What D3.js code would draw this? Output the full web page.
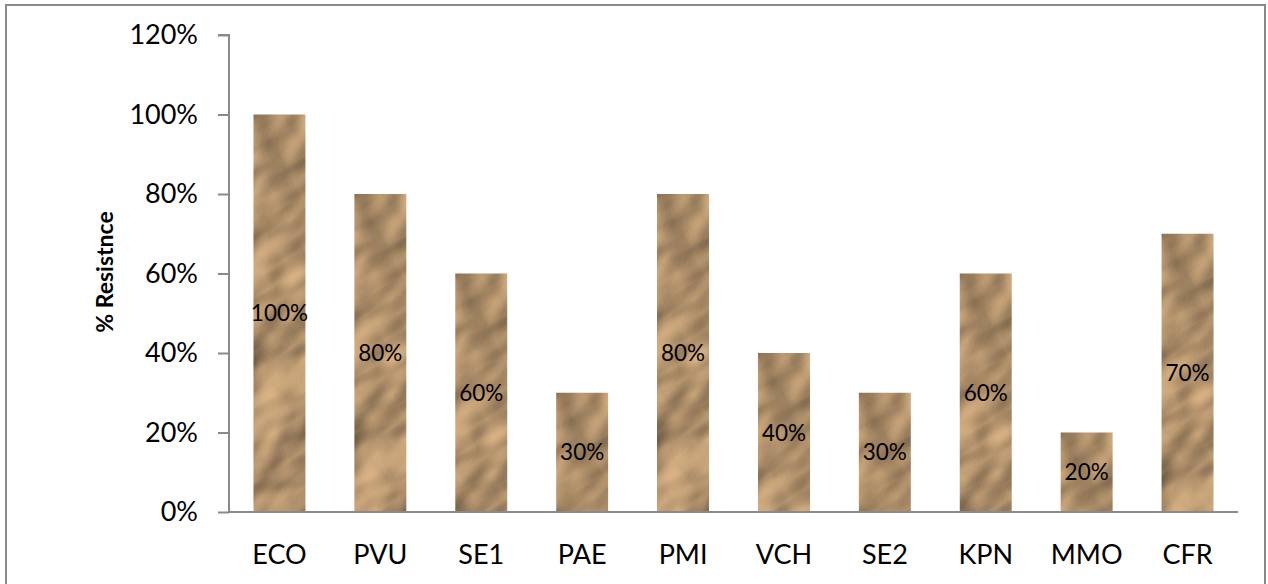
<!DOCTYPE html>
<html>
<head>
<meta charset="utf-8">
<script src="https://cdn.jsdelivr.net/npm/d3@7"></script>
<style>
  html, body { margin: 0; padding: 0; background: #fff; }
  svg { display: block; }
  text { font-family: Lato, "Open Sans", sans-serif; fill: #000; }
</style>
</head>
<body>
<svg id="chart" width="1268" height="584"></svg>
<script>
// Resistance of each isolate
const categories = ["ECO", "PVU", "SE1", "PAE", "PMI", "VCH", "SE2", "KPN", "MMO", "CFR"];
const resistance = [1.00, 0.80, 0.60, 0.30, 0.80, 0.40, 0.30, 0.60, 0.20, 0.70];
const yTicks = [0, 0.2, 0.4, 0.6, 0.8, 1.0, 1.2];
const yTitle = "% Resistnce";

const svg = d3.select("#chart");
const plot = { left: 229, right: 1238, top: 35, bottom: 512 };

// chart frame
svg.append("rect")
  .attr("x", 6).attr("y", 5)
  .attr("width", 1259).attr("height", 600)
  .attr("fill", "none").attr("stroke", "#8a8a8a").attr("stroke-width", 2);

// crumpled kraft-paper texture: lit noise, computed in a slanted frame
const defs = svg.append("defs");
const f = defs.append("filter").attr("id", "paper")
  .attr("filterUnits", "userSpaceOnUse")
  .attr("x", -300).attr("y", -300).attr("width", 900).attr("height", 900)
  .attr("color-interpolation-filters", "sRGB");
f.append("feTurbulence").attr("type", "fractalNoise")
  .attr("baseFrequency", "0.01 0.016").attr("numOctaves", 3).attr("seed", 4)
  .attr("result", "noise");
const light = f.append("feDiffuseLighting").attr("in", "noise")
  .attr("lighting-color", "rgb(216,177,131)")
  .attr("surfaceScale", 10).attr("diffuseConstant", 1.1).attr("result", "lit");
light.append("feDistantLight").attr("azimuth", 225).attr("elevation", 50);

const x = d3.scaleBand().domain(categories)
  .range([plot.left, plot.right]).paddingInner(0.485).paddingOuter(0.2425);
const y = d3.scaleLinear().domain([0, 1.2]).range([plot.bottom, plot.top]);

const rows = categories.map((c, i) => ({ c, v: resistance[i] }));

// bars: each one is anchored at its own top so the texture starts the same way
const bars = svg.append("g").selectAll("g")
  .data(rows)
  .join("g")
  .attr("transform", d => `translate(${x(d.c)},${y(d.v)})`);

bars.append("clipPath")
  .attr("id", (d, i) => `bar-clip-${i}`)
  .append("rect")
  .attr("width", x.bandwidth())
  .attr("height", d => y(0) - y(d.v));

bars.append("g")
  .attr("clip-path", (d, i) => `url(#bar-clip-${i})`)
  .append("g")
  .attr("transform", "rotate(-32)")
  .append("rect")
  .attr("x", -200).attr("y", -200).attr("width", 700).attr("height", 700)
  .attr("fill", "#bf9a6c")
  .attr("filter", "url(#paper)");

// value labels in the middle of each bar
svg.append("g").selectAll("text")
  .data(rows)
  .join("text")
  .attr("x", d => x(d.c) + x.bandwidth() / 2)
  .attr("y", d => (y(d.v) + y(0)) / 2)
  .attr("dy", "0.36em")
  .attr("text-anchor", "middle")
  .style("font-size", "22.5px")
  .text(d => d3.format(".0%")(d.v));

// y axis
const yAxis = d3.axisLeft(y).tickValues(yTicks)
  .tickFormat(d3.format(".0%")).tickSize(11).tickPadding(20);
const gy = svg.append("g").attr("transform", `translate(${plot.left},0)`).call(yAxis);
gy.select(".domain").attr("stroke", "#8a8a8a").attr("stroke-width", 2)
  .attr("d", `M-11,${plot.top}H0V${plot.bottom}`);
gy.selectAll(".tick line").attr("stroke", "#8a8a8a").attr("stroke-width", 2);
gy.selectAll(".tick text").style("font-size", "27px")
  .style("font-family", "Lato, sans-serif").attr("fill", "#000");

// x axis
const xAxis = d3.axisBottom(x).tickSize(0).tickPadding(33);
const gx = svg.append("g").attr("transform", `translate(0,${plot.bottom})`).call(xAxis);
gx.select(".domain").attr("stroke", "#8a8a8a").attr("stroke-width", 2)
  .attr("d", `M${plot.left},0H${plot.right}`);
gx.selectAll(".tick text").style("font-size", "27px")
  .style("font-family", "Lato, sans-serif").attr("fill", "#000");

// axis title
svg.append("text")
  .attr("transform", `translate(113,272) rotate(-90)`)
  .attr("text-anchor", "middle")
  .style("font-size", "23px").style("font-weight", "bold")
  .text(yTitle);
</script>
</body>
</html>
